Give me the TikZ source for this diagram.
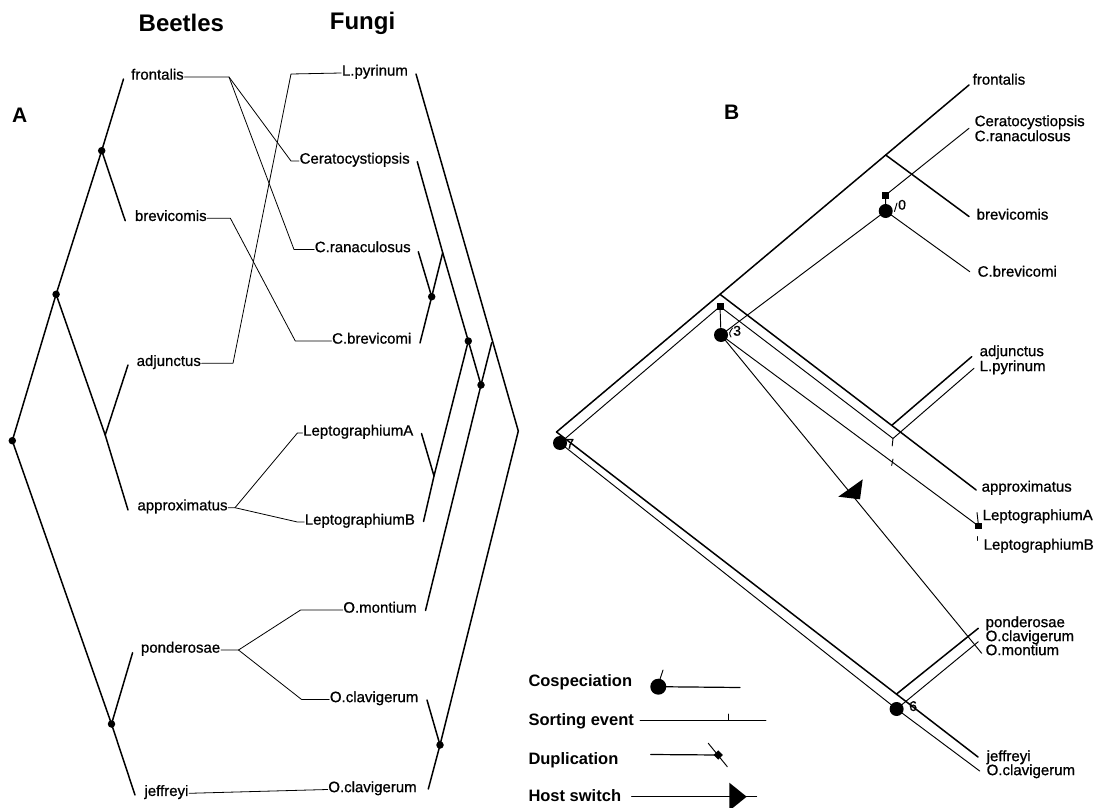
\documentclass[tikz,border=0pt]{standalone}
\usepackage{fontspec}
\setmainfont{Liberation Sans}
\newfontfamily\lblfont{Liberation Sans}[FakeBold=0.8]
\begin{document}
\begin{tikzpicture}[x=1pt,y=-1pt,
  br/.style={line width=1.5pt},
  cn/.style={line width=0.8pt},
  hs/.style={line width=1.5pt},
  pr/.style={line width=0.95pt},
  dotA/.style={circle,fill,inner sep=0pt,minimum size=7.5pt},
  dotB/.style={circle,fill,inner sep=0pt,minimum size=14pt},
  sqB/.style={rectangle,fill,inner sep=0pt,minimum size=7pt},
  lbl/.style={font=\lblfont\fontsize{15}{15}\selectfont,inner sep=0.5pt},
  ttl/.style={font=\fontsize{24}{24}\selectfont\bfseries,inner sep=0pt},
  pnl/.style={font=\fontsize{21}{21}\selectfont\bfseries,inner sep=0pt},
  lgd/.style={font=\fontsize{16.5}{16.5}\selectfont\bfseries,inner sep=0pt},
  num/.style={font=\lblfont\fontsize{14}{14}\selectfont,inner sep=0pt},
  line cap=round, line join=round]
\useasboundingbox (0,0) rectangle (1096,808);

% ---------------- titles ----------------
\node[ttl,anchor=base west] (tBeetles) at (138.5,31.5) {Beetles};
\node[ttl,anchor=base west] (tFungi) at (329.7,29.3) {Fungi};
\node[pnl,anchor=base west] (pA) at (12,122) {A};
\node[pnl,anchor=base west] (pB) at (724,120) {B};

% ---------------- panel A: beetle tree ----------------
\coordinate (tfr) at (123.5,79);
\node[dotA] (n2) at (101.7,150.7) {};
\coordinate (tbr) at (125.2,220.7);
\node[dotA] (n1) at (56.1,294.3) {};
\coordinate (tad) at (128,365);
\coordinate (jad) at (105.2,435);
\coordinate (tap) at (128,510);
\node[dotA] (r0) at (12.3,440.7) {};
\node[dotA] (n3) at (111.5,724) {};
\coordinate (tpo) at (132.6,652.7);
\coordinate (tje) at (135,795);

\draw[br] (tfr) -- (n2.center) -- (n1.center) -- (r0.center) -- (n3.center) -- (tje);
\draw[br] (tbr) -- (n2.center);
\draw[br] (n1.center) -- (jad) -- (tap);
\draw[br] (tad) -- (jad);
\draw[br] (tpo) -- (n3.center);

% beetle labels
\node[lbl,anchor=mid west] (bfr) at (130.5,77) {frontalis};
\node[lbl,anchor=mid west] (bbr) at (134.3,218.3) {brevicomis};
\node[lbl,anchor=mid west] (bad) at (136,363.3) {adjunctus};
\node[lbl,anchor=mid west] (bap) at (136.8,507.7) {approximatus};
\node[lbl,anchor=mid west] (bpo) at (140.3,650) {ponderosae};
\node[lbl,anchor=mid west] (bje) at (143.8,793.3) {jeffreyi};

% fungus labels
\node[lbl,anchor=mid east] (fLPl) at (408.6,73) {L.pyrinum};
\node[lbl,anchor=mid east] (fCel) at (410.4,161) {Ceratocystiopsis};
\node[lbl,anchor=mid east] (fCRl) at (411.4,249.5) {C.ranaculosus};
\node[lbl,anchor=mid east] (fCBl) at (412,341) {C.brevicomi};
\node[lbl,anchor=mid east] (fLAl) at (414,433) {LeptographiumA};
\node[lbl,anchor=mid east] (fLBl) at (415.6,522) {LeptographiumB};
\node[lbl,anchor=mid east] (fOMl) at (417.4,610) {O.montium};
\node[lbl,anchor=mid east] (fOC1l) at (419,699.5) {O.clavigerum};
\node[lbl,anchor=mid east] (fOC2l) at (417.4,789.5) {O.clavigerum};

% association connectors
\coordinate (cf) at (229,77);
\coordinate (cCe) at (291,161);
\coordinate (cCR) at (294,249.5);
\coordinate (cb) at (230.4,218.3);
\coordinate (cCB) at (295.3,341);
\coordinate (ca) at (233,363.3);
\coordinate (cLP) at (291,74);
\coordinate (cap) at (235,507.7);
\coordinate (cLA) at (297.4,433);
\coordinate (cLB) at (297.4,522);
\coordinate (cp) at (238.5,650);
\coordinate (cOM) at (300.6,610);
\coordinate (cOC) at (301.6,699.5);

\draw[cn] (bfr.mid east) -- (cf) -- (cCe) -- (fCel.mid west);
\draw[cn] (cf) -- (cCR) -- (fCRl.mid west);
\draw[cn] (bbr.mid east) -- (cb) -- (cCB) -- (fCBl.mid west);
\draw[cn] (bad.mid east) -- (ca) -- (cLP) -- (fLPl.mid west);
\draw[cn] (bap.mid east) -- (cap) -- (cLA) -- (fLAl.mid west);
\draw[cn] (cap) -- (cLB) -- (fLBl.mid west);
\draw[cn] (bpo.mid east) -- (cp) -- (cOM) -- (fOMl.mid west);
\draw[cn] (cp) -- (cOC) -- (fOC1l.mid west);
\draw[cn] (bje.mid east) -- (fOC2l.mid west);

% ---------------- panel A: fungus tree ----------------
\coordinate (fLP) at (416,74);
\coordinate (fCe) at (417.3,161.7);
\coordinate (fCR) at (418.3,251.7);
\coordinate (fCB) at (420,343);
\coordinate (fLA) at (421.5,433.5);
\coordinate (fLB) at (423.5,521.5);
\coordinate (fOM) at (425.5,610.5);
\coordinate (fOC1) at (427,700);
\coordinate (fOC2) at (428.3,789);
\node[dotA] (X1) at (431.7,296.7) {};
\coordinate (P) at (442.7,252.7);
\node[dotA] (X2) at (468.3,341) {};
\coordinate (Q) at (491.7,342.7);
\node[dotA] (X3) at (481,385) {};
\coordinate (R) at (518.3,431);
\coordinate (Y1) at (434,476);
\node[dotA] (Z) at (440,745) {};

\draw[br] (fLP) -- (R) -- (Z.center) -- (fOC2);
\draw[br] (fOC1) -- (Z.center);
\draw[br] (fCe) -- (P) -- (X2.center) -- (X3.center);
\draw[br] (fCR) -- (X1.center);
\draw[br] (fCB) -- (X1.center) -- (P);
\draw[br] (fLA) -- (Y1);
\draw[br] (fLB) -- (Y1) -- (X2.center);
\draw[br] (fOM) -- (X3.center) -- (Q);

% ---------------- panel B: host tree ----------------
\coordinate (hroot) at (556.5,432);
\coordinate (hfr) at (969,85);
\coordinate (Jb) at (885.7,155);
\coordinate (hbr) at (969,216.5);
\coordinate (Ja) at (720,294.3);
\coordinate (hap) at (976.2,490);
\coordinate (Jad) at (891.7,425.4);
\coordinate (had) at (971.7,356.7);
\coordinate (hje) at (978,757);
\coordinate (Jpo) at (896.4,694.1);
\coordinate (hpo) at (978.3,628.3);

\draw[hs] (hfr) -- (Jb) -- (Ja) -- (hroot) -- (Jpo) -- (hje);
\draw[hs] (Jb) -- (hbr);
\draw[hs] (Ja) -- (Jad) -- (hap);
\draw[hs] (Jad) -- (had);
\draw[hs] (Jpo) -- (hpo);

% ---------------- panel B: parasite tree ----------------
\node[dotB] (d7) at (560,443) {};
\node[sqB] (s3) at (720,306.5) {};
\node[dotB] (d3) at (721,335) {};
\node[sqB] (s0) at (885.7,195) {};
\node[dotB] (d0) at (885.7,211) {};
\node[dotB] (d6) at (896.6,709) {};
\node[sqB,minimum size=6.5pt] (sLAB) at (978.5,526) {};
\coordinate (pCe) at (969,128.3);
\coordinate (pCB) at (969.8,271.7);
\coordinate (pLP) at (974,368.3);
\coordinate (pLPs) at (893,438.5);
\coordinate (pLAs) at (891.7,465.5);
\coordinate (pOM) at (981.7,653.3);
\coordinate (pOC) at (978.3,641.7);
\coordinate (pOC2) at (979.7,771);

\draw[pr] (d7.center) -- (s3.center);
\draw[pr] (s3.center) -- (d3.center);
\draw[pr] (s3.center) -- (pLPs) -- (pLP);
\draw[pr] (pLPs) -- ++(-0.8,7.5);
\draw[pr] (d3.center) -- (sLAB.center);
\draw[pr] (pLAs) -- ++(1.3,-6.5);
\draw[pr] (sLAB.center) -- ++(-1.5,-13.5);
\draw[pr] (977,536.5) -- ++(0,4);
\draw[pr] (d3.center) -- (pOM);
\draw[pr] (d0.center) -- (d3.center);
\draw[pr] (pCe) -- (s0.center) -- (d0.center);
\draw[pr] (d0.center) -- (pCB);
\draw[pr] (d7.center) -- (d6.center) -- (pOC2);
\draw[pr] (d6.center) -- (pOC);
\draw[pr] (894.5,211.5) -- (897,203);
\draw[pr] (731,337) .. controls (729,333) .. (732.5,328);

% host switch arrowhead
\fill (838.3,496.7) -- (862.7,479.3) -- (860,499.3) -- cycle;

% node numbers
\node[num,anchor=mid west] (n0l) at (898,207) {0};
\node[num,anchor=mid west] (n3l) at (733,333) {3};
\node[num,anchor=mid west] (n7l) at (566,446) {7};
\node[num,anchor=mid west] (n6l) at (909,708.3) {6};

% B labels
\node[lbl,anchor=mid west] (Bfr) at (972,82) {frontalis};
\node[lbl,anchor=mid west] (BCe) at (974,123.5) {Ceratocystiopsis};
\node[lbl,anchor=mid west] (BCR) at (974,138.5) {C.ranaculosus};
\node[lbl,anchor=mid west] (Bbr) at (976,217) {brevicomis};
\node[lbl,anchor=mid west] (BCB) at (977,274) {C.brevicomi};
\node[lbl,anchor=mid west] (Bad) at (979,353.5) {adjunctus};
\node[lbl,anchor=mid west] (BLP) at (979,368.5) {L.pyrinum};
\node[lbl,anchor=mid west] (Bap) at (981,489) {approximatus};
\node[lbl,anchor=mid west] (BLA) at (982,517.5) {LeptographiumA};
\node[lbl,anchor=mid west] (BLB) at (983,547) {LeptographiumB};
\node[lbl,anchor=mid west] (Bpo) at (985,624.5) {ponderosae};
\node[lbl,anchor=mid west] (BOC) at (985,638.5) {O.clavigerum};
\node[lbl,anchor=mid west] (BOM) at (985,652.5) {O.montium};
\node[lbl,anchor=mid west] (Bje) at (986,758.5) {jeffreyi};
\node[lbl,anchor=mid west] (BOC2) at (986,772.5) {O.clavigerum};

% ---------------- legend ----------------
\node[lgd,anchor=base west] (Lco) at (528.3,686.5) {Cospeciation};
\node[lgd,anchor=base west] (Lso) at (528.3,725) {Sorting event};
\node[lgd,anchor=base west] (Ldu) at (528.3,764) {Duplication};
\node[lgd,anchor=base west] (Lho) at (528.3,801.5) {Host switch};

\node[circle,fill,inner sep=0pt,minimum size=16pt] (Lcod) at (658.3,686.7) {};
\coordinate (Lcoe) at (740,687.5);
\draw[line width=1.2pt] (Lcod.center) -- (Lcoe);
\draw[pr] (660,679) .. controls (661.5,674) .. (663,670);

\coordinate (Lsos) at (640,720);
\coordinate (Lsoe) at (766,720);
\draw[line width=0.8pt] (Lsos) -- (Lsoe);
\draw[line width=0.8pt] (728.3,720) -- ++(0,-6);

\coordinate (Ldus) at (650.7,754.5);
\node[rectangle,fill,rotate=45,inner sep=0pt,minimum size=6.5pt] (Ldud) at (718.3,755) {};
\draw[line width=1.2pt] (Ldus) -- (Ldud.center);
\draw[pr] (708.3,743.3) -- (727.3,766.7);

\coordinate (Lhos) at (631.7,796.7);
\coordinate (Lhoe) at (756.7,796.7);
\draw[pr] (Lhos) -- (Lhoe);
\fill (729.3,782.7) -- (746.7,796.7) -- (729.3,810.7) -- cycle;

\end{tikzpicture}
\end{document}
